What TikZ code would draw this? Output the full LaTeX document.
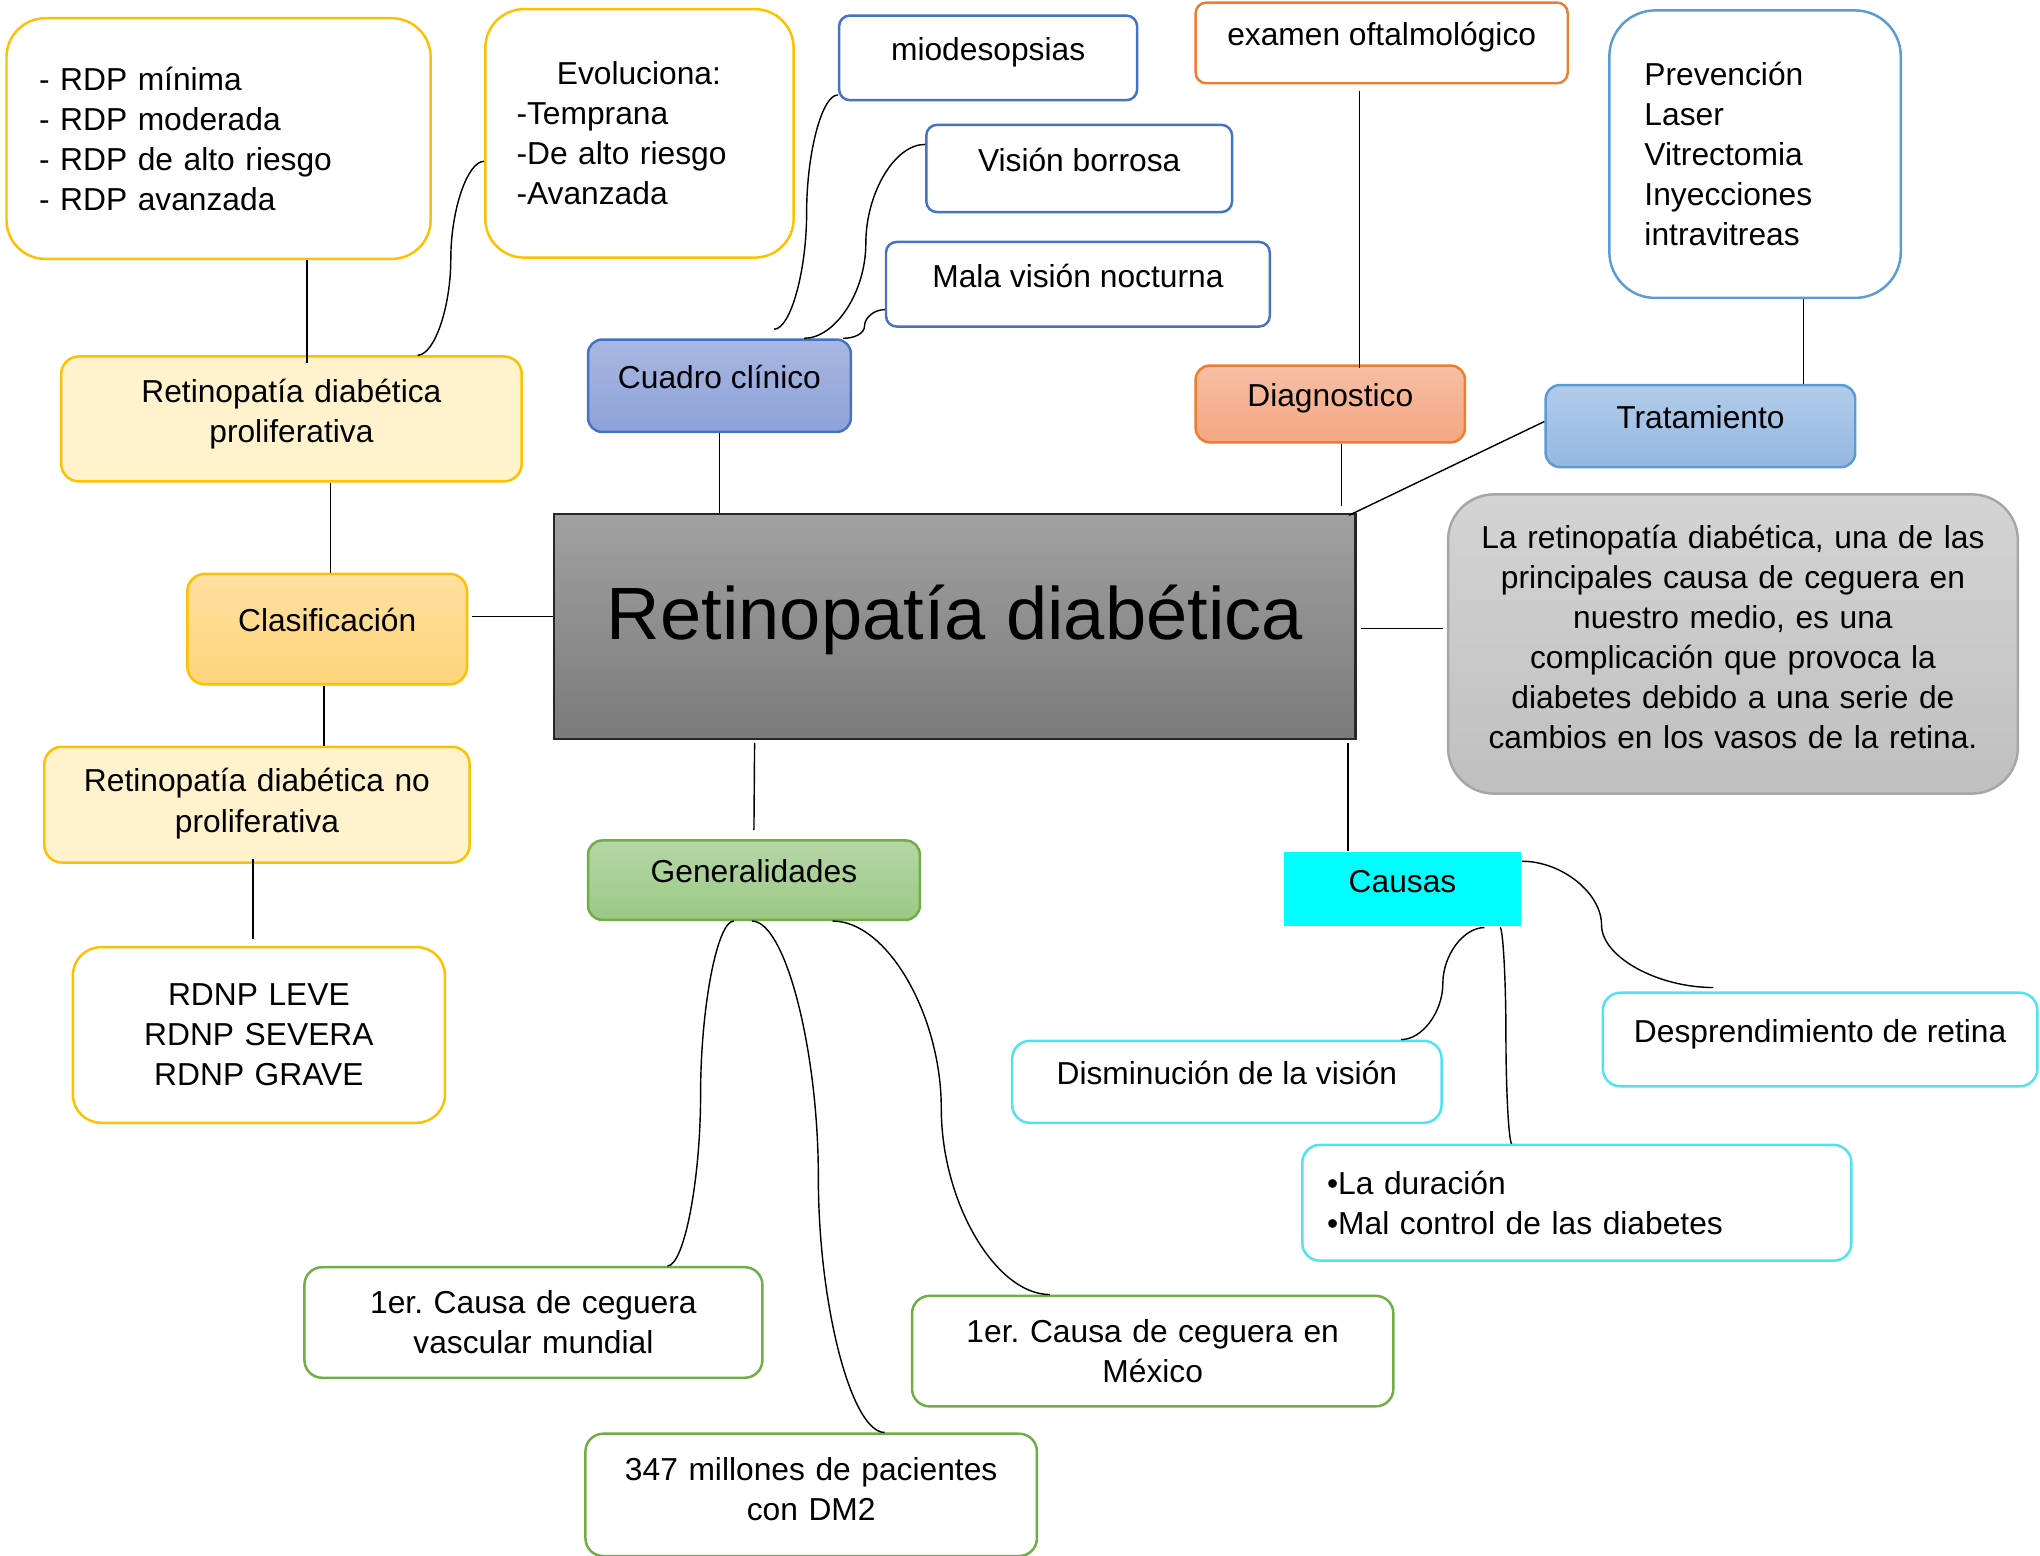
\documentclass[tikz,border=0pt]{standalone}
\usepackage{fontspec}
\setmainfont{Liberation Sans}
\frenchspacing
\tikzset{>=latex}

\newlength{\pxu}
\setlength{\pxu}{0.3688pt}

\definecolor{amarillo}{HTML}{FFC000}
\definecolor{amarilloclaro}{HTML}{FFF2CC}
\definecolor{azul}{HTML}{4472C4}
\definecolor{azulclaro}{HTML}{5B9BD5}
\definecolor{naranja}{HTML}{ED7D31}
\definecolor{verde}{HTML}{70AD47}
\definecolor{celeste}{HTML}{4FE3F1}
\definecolor{cian}{HTML}{00FFFF}
\definecolor{grisborde}{HTML}{A6A6A6}
\definecolor{cuadroA}{HTML}{A9B7E1}
\definecolor{cuadroB}{HTML}{8DA2D9}
\definecolor{diagA}{HTML}{F6BFA6}
\definecolor{diagB}{HTML}{F4A680}
\definecolor{tratA}{HTML}{B2CCEA}
\definecolor{tratB}{HTML}{94B7E2}
\definecolor{clasA}{HTML}{FFE0A2}
\definecolor{clasB}{HTML}{FFD479}
\definecolor{genA}{HTML}{B5D6A7}
\definecolor{genB}{HTML}{9CC985}

\tikzset{
  caja/.style={draw, line width=0.7pt, rounded corners=4pt, fill=white, inner sep=0pt,
    align=center, font=\fontsize{9}{11.35}\selectfont},
  arriba/.style={text height=7.5pt, text depth=5.9pt},
  varias/.style={text width=#1\pxu, minimum width=#1\pxu, text height=7pt},
  conn/.style={line width=0.4pt, black},
}

\begin{document}
\begin{tikzpicture}[x=0.3688pt, y=-0.3688pt]
	\useasboundingbox (0,0) rectangle (1568,1196);

	% nodo central
	\node[draw=black!85, line width=0.7pt, top color=black!37, bottom color=black!52,
	      minimum width=616\pxu, minimum height=173\pxu, font=\fontsize{21}{25}\selectfont,
	      text height=16pt, text depth=8.4pt] (rd) at (734,481.5) {Retinopatía diabética};

	% arriba
	\node[caja, draw=amarillo, rounded corners=11pt, align=left, text width=276\pxu, inner xsep=25\pxu, minimum height=185\pxu] (rdp) at (168,106.5) {- RDP mínima\\- RDP moderada\\- RDP de alto riesgo\\- RDP avanzada};
	\node[caja, draw=amarillo, rounded corners=11pt, align=left, text width=189\pxu, inner xsep=24\pxu, minimum height=191\pxu] (evol) at (491.5,102.5) {\hspace*{31\pxu}Evoluciona:\\-Temprana\\-De alto riesgo\\-Avanzada};
	\node[caja, arriba, draw=azul, rounded corners=3pt, minimum width=229\pxu, minimum height=65\pxu] (mio) at (759.5,44.5) {miodesopsias};
	\node[caja, arriba, draw=azul, rounded corners=3pt, minimum width=235\pxu, minimum height=67\pxu] (vborr) at (829.5,129.5) {Visión borrosa};
	\node[caja, arriba, draw=azul, rounded corners=3pt, minimum width=295\pxu, minimum height=65\pxu] (mala) at (828.5,218.5) {Mala visión nocturna};
	\node[caja, arriba, draw=naranja, rounded corners=3pt, minimum width=286\pxu, minimum height=62\pxu] (exam) at (1062,33) {examen oftalmológico};
	\node[caja, draw=azulclaro, rounded corners=13pt, align=left, text width=170\pxu, inner xsep=27\pxu, minimum height=221\pxu] (prev) at (1349,118.5) {Prevención\\Laser\\Vitrectomia\\Inyecciones\\intravitreas};

	\node[caja, varias=354, text depth=16.1pt, draw=amarillo, fill=amarilloclaro, rounded corners=5pt, minimum height=96\pxu] (prolif) at (224,322) {Retinopatía diabética\\proliferativa};
	\node[caja, arriba, draw=azul, top color=cuadroA, bottom color=cuadroB, minimum width=202\pxu, minimum height=71\pxu] (cuadro) at (553,296.5) {Cuadro clínico};
	\node[caja, arriba, draw=naranja, top color=diagA, bottom color=diagB, minimum width=207\pxu, minimum height=59\pxu] (diag) at (1022.5,310.5) {Diagnostico};
	\node[caja, arriba, draw=azulclaro, top color=tratA, bottom color=tratB, minimum width=238\pxu, minimum height=63\pxu] (trat) at (1307,327.5) {Tratamiento};

	% lados
	\node[caja, varias=438, text depth=61.1pt, draw=grisborde, top color=black!17, bottom color=black!25, rounded corners=13pt, minimum height=230\pxu] (desc) at (1332,495) {La retinopatía diabética, una de las\\principales causa de ceguera en\\nuestro medio, es una\\complicación que provoca la\\diabetes debido a una serie de\\cambios en los vasos de la retina.};
	\node[caja, arriba, draw=amarillo, top color=clasA, bottom color=clasB, rounded corners=5pt, minimum width=215\pxu, minimum height=85\pxu] (clasif) at (251.5,483.5) {Clasificación};

	% abajo
	\node[caja, varias=327, text depth=14.2pt, draw=amarillo, fill=amarilloclaro, rounded corners=5pt, minimum height=89\pxu] (noprolif) at (197.5,618.5) {Retinopatía diabética no\\proliferativa};
	\node[caja, varias=286, text depth=23.8pt, draw=amarillo, rounded corners=8pt, minimum height=135\pxu] (rdnp) at (199,795.5) {RDNP LEVE\\RDNP SEVERA\\RDNP GRAVE};
	\node[caja, arriba, draw=verde, top color=genA, bottom color=genB, minimum width=255\pxu, minimum height=61\pxu] (gen) at (579.5,676.5) {Generalidades};
	\node[caja, arriba, draw=none, fill=cian, sharp corners, minimum width=182\pxu, minimum height=57\pxu] (causas) at (1078,683.5) {Causas};
	\node[caja, arriba, draw=celeste, rounded corners=5pt, minimum width=330\pxu, minimum height=63\pxu] (dismin) at (943,831.5) {Disminución de la visión};
	\node[caja, arriba, draw=celeste, rounded corners=5pt, minimum width=334\pxu, minimum height=72\pxu] (despr) at (1399,799) {Desprendimiento de retina};
	\node[caja, draw=celeste, rounded corners=5pt, align=left, text width=384\pxu, inner xsep=19\pxu, minimum height=89\pxu] (durac) at (1212,924.5) {•La duración\\•Mal control de las diabetes};
	\node[caja, varias=352, text depth=12pt, draw=verde, rounded corners=5pt, minimum height=85\pxu] (vasc) at (410,1016.5) {1er. Causa de ceguera\\vascular mundial};
	\node[caja, varias=370, text depth=12pt, draw=verde, rounded corners=5pt, minimum height=85\pxu] (mex) at (886,1038.5) {1er. Causa de ceguera en\\México};
	\node[caja, varias=347, text depth=15.3pt, draw=verde, rounded corners=5pt, minimum height=94\pxu] (mill) at (623.5,1149) {347 millones de pacientes\\con DM2};

	% conectores rectos
	\draw[conn] ([xshift=68\pxu]rdp.south) -- ([xshift=12\pxu,yshift=-6\pxu]prolif.north);
	\draw[conn] (cuadro.south) -- (cuadro.south |- rd.north);
	\draw[conn] ([xshift=-17\pxu,yshift=-5\pxu]exam.south) -- ([xshift=22.5\pxu,yshift=-3\pxu]diag.north);
	\draw[conn] ([xshift=8.5\pxu]diag.south) -- ([xshift=297\pxu,yshift=5\pxu]rd.north);
	\draw[conn] ([yshift=3.5\pxu]trat.west) -- ([xshift=-6\pxu,yshift=-2\pxu]rd.north east);
	\draw[conn] ([xshift=37\pxu]prev.south) -- ([xshift=79\pxu]trat.north);
	\draw[conn] ([xshift=3\pxu,yshift=-1.5\pxu]rd.east) -- ([xshift=-3\pxu,yshift=12\pxu]desc.west);
	\draw[conn] ([xshift=302\pxu,yshift=-2\pxu]rd.south) -- ([xshift=-42\pxu]causas.north);
	\draw[conn] ([xshift=-154\pxu,yshift=-2\pxu]rd.south) -- ([yshift=7\pxu]gen.north);
	\draw[conn] ([xshift=3\pxu,yshift=9.5\pxu]clasif.east) -- ([yshift=7.5\pxu]rd.west);
	\draw[conn] ([xshift=30\pxu]prolif.south) -- ([xshift=2.5\pxu]clasif.north);
	\draw[conn] ([xshift=-2.5\pxu]clasif.south) -- ([xshift=51.5\pxu]noprolif.north);
	\draw[conn] ([xshift=-3\pxu,yshift=4\pxu]noprolif.south) -- ([xshift=-4.5\pxu,yshift=5.5\pxu]rdnp.north);

	% conectores curvos
	\draw[conn] ([xshift=97\pxu]prolif.north) .. controls +(12.75,0) and +(0,37.5) .. (346.5,199)
	            .. controls +(0,-37.5) and +(-12.75,0) .. ([yshift=-21.5\pxu]evol.west);
	\draw[conn] ([xshift=42\pxu,yshift=7\pxu]cuadro.north) .. controls +(12.5,0) and +(0,45.25) .. (620,163.5)
	            .. controls +(0,-45.25) and +(-12.5,0) .. ([yshift=-28.5\pxu]mio.west);
	\draw[conn] ([xshift=65\pxu]cuadro.north) .. controls +(23.75,0) and +(0,38) .. (665.5,187)
	            .. controls +(0,-38) and +(-23.75,0) .. ([yshift=18.5\pxu]vborr.west);
	\draw[conn] ([xshift=95\pxu]cuadro.north) .. controls +(8.25,0) and +(0,6.25) .. (664.5,250.5)
	            .. controls +(0,-6.25) and +(-8.25,0) .. ([yshift=-19.5\pxu]mala.west);

	\draw[conn] ([xshift=-15.5\pxu]gen.south) .. controls +(-12.75,0) and +(0,-66.5) .. (538.5,841)
	            .. controls +(0,66.5) and +(12.75,0) .. ([xshift=103\pxu]vasc.north);
	\draw[conn] ([xshift=-1.5\pxu]gen.south) .. controls +(25.5,0) and +(0,-98.5) .. (629,905)
	            .. controls +(0,98.5) and +(-25.5,0) .. ([xshift=56.5\pxu]mill.north);
	\draw[conn] ([xshift=60.5\pxu]gen.south) .. controls +(41.75,0) and +(0,-72) .. (723.5,852)
	            .. controls +(0,72) and +(-41.75,0) .. ([xshift=-79\pxu]mex.north);

	\draw[conn] ([yshift=21.5\pxu]causas.east) .. controls +(30.5,0) and +(0,-24.5) .. (1231,711)
	            .. controls +(0,24.5) and +(-43,0) .. ([xshift=-82\pxu,yshift=3\pxu]despr.north);
	\draw[conn] ([xshift=63\pxu]causas.south) .. controls +(-16,0) and +(0,-22) .. (1109,756)
	            .. controls +(0,22) and +(16,0) .. ([xshift=134\pxu]dismin.north);
	\draw[conn] ([xshift=75\pxu]causas.south) .. controls +(2.25,0) and +(0,-42) .. (1157.5,796)
	            .. controls +(0,42) and +(-2.25,0) .. ([xshift=-50\pxu]durac.north);
\end{tikzpicture}
\end{document}
